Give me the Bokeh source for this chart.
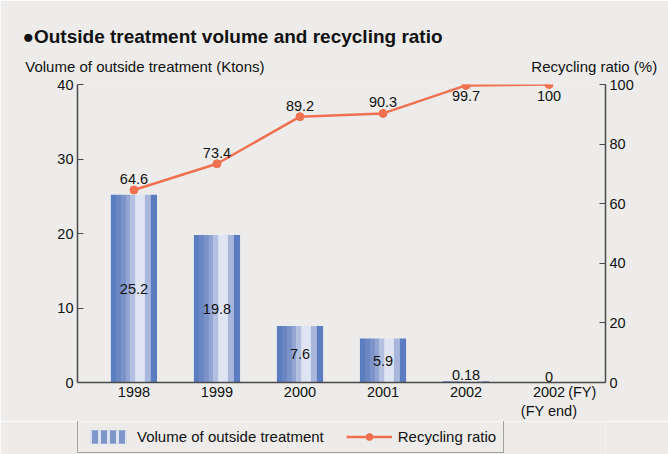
from bokeh.plotting import figure
from bokeh.layouts import column
from bokeh.models import (ColumnDataSource, FactorRange, Range1d, LinearAxis, CategoricalAxis, Title,
                          Legend, LegendItem, FixedTicker)
from bokeh.core.properties import value
from bokeh.transform import dodge
from bokeh.embed import file_html
from bokeh.resources import INLINE

# ---- data ----
years = ["1998", "1999", "2000", "2001", "2002", "2002\n(FY end)"]
volume = [25.2, 19.8, 7.6, 5.9, 0.18, 0]
volume_labels = ["25.2", "19.8", "7.6", "5.9", "0.18", "0"]
ratio = [64.6, 73.4, 89.2, 90.3, 99.7, 100]
ratio_labels = ["64.6", "73.4", "89.2", "90.3", "99.7", "100"]
left_ticks = [0, 10, 20, 30, 40]
right_ticks = [0, 20, 40, 60, 80, 100]
x_unit_label = "(FY)"
left_title = "Volume of outside treatment (Ktons)"
right_title = "Recycling ratio (%)"
main_title = "●Outside treatment volume and recycling ratio"

# ---- style ----
BG = "#edecea"
FONT = "Liberation Sans"
LINE_C = "#f0704f"
AXIS_C = "#4a4a4a"
TXT = "#111111"
stripe_px = [5, 5, 5, 4.5, 5, 9.5, 6, 6]
stripe_colors = ["#5a7dc0", "#6a87c4", "#7b93c9", "#93a5d3", "#b4c0e2", "#dfe4f2", "#a9b7dd", "#5b7cc0"]
BAR_W = 0.554

def blank(i):
    return " " * (i + 1)

# fine label grids (5 slots per category) for the category axis, and the header row
tick_factors = [blank(i) for i in range(30)]
for k, y in enumerate(years):
    tick_factors[2 + 5 * k] = y
tick_factors[29] = x_unit_label
head_factors = [blank(i) for i in range(10)]
head_factors[1] = left_title
head_factors[9] = right_title

p = figure(width=668, height=421, output_backend="svg", toolbar_location=None,
           x_range=FactorRange(*years, range_padding=0.18, range_padding_units="absolute"),
           y_range=Range1d(0, 40), x_axis_location=None,
           min_border_left=77, min_border_right=63, min_border_top=84, min_border_bottom=35)
p.background_fill_color = BG
p.border_fill_color = BG
p.outline_line_color = None
p.grid.visible = False
p.extra_y_ranges = {"ratio": Range1d(0, 100)}
p.extra_x_ranges = {
    "ticks": FactorRange(*tick_factors, range_padding=0.9, range_padding_units="absolute"),
    "head": FactorRange(*head_factors, range_padding=-0.3, range_padding_units="absolute"),
}

src = ColumnDataSource(dict(year=years, vol=volume, ratio=ratio))

# striped bars
total = sum(stripe_px)
acc = 0.0
for w, c in zip(stripe_px, stripe_colors):
    center = (acc + w / 2 - total / 2) / total * BAR_W
    p.vbar(x=dodge("year", center, range=p.x_range), top="vol", bottom=0,
           width=w / total * BAR_W + 0.002, source=src, fill_color=c, line_color=None)
    acc += w

# bar labels
big = ColumnDataSource(dict(year=[y for y, v in zip(years, volume) if v > 2],
                            mid=[v / 2 for v in volume if v > 2],
                            lab=[l for l, v in zip(volume_labels, volume) if v > 2]))
small = ColumnDataSource(dict(year=[y for y, v in zip(years, volume) if v <= 2],
                              top=[v for v in volume if v <= 2],
                              lab=[l for l, v in zip(volume_labels, volume) if v <= 2]))
txt_kw = dict(text_font=value(FONT), text_font_size="14.5px", text_color=TXT, text_align="center")
p.text(x="year", y="mid", text="lab", source=big, text_baseline="middle", **txt_kw)
p.text(x="year", y="top", text="lab", source=small, text_baseline="bottom", y_offset=-1, **txt_kw)

# line
p.line(x="year", y="ratio", source=src, y_range_name="ratio", line_color=LINE_C, line_width=2.5)
p.scatter(x="year", y="ratio", source=src, y_range_name="ratio", size=8,
          fill_color=LINE_C, line_color=LINE_C)
above = ColumnDataSource(dict(year=years[:4], ratio=ratio[:4], lab=ratio_labels[:4]))
below = ColumnDataSource(dict(year=years[4:], ratio=ratio[4:], lab=ratio_labels[4:]))
p.text(x="year", y="ratio", text="lab", source=above, y_range_name="ratio",
       text_baseline="bottom", y_offset=-6, **txt_kw)
p.text(x="year", y="ratio", text="lab", source=below, y_range_name="ratio",
       text_baseline="top", y_offset=6, **txt_kw)

# value axes
def style_axis(ax, ticks):
    ax.ticker = FixedTicker(ticks=ticks)
    ax.axis_line_color = AXIS_C
    ax.axis_line_width = 1.5
    ax.major_tick_line_color = AXIS_C
    ax.major_tick_line_width = 1.2
    ax.major_tick_in = 6
    ax.major_tick_out = 0
    ax.minor_tick_line_color = None
    ax.major_label_text_font = FONT
    ax.major_label_text_font_size = "14.5px"
    ax.major_label_text_color = TXT
    ax.major_label_standoff = 4

style_axis(p.yaxis[0], left_ticks)
right = LinearAxis(y_range_name="ratio")
style_axis(right, right_ticks)
p.add_layout(right, "right")

# category axis and header row
def plain_cat_axis(ax, size, standoff, line):
    ax.axis_line_color = AXIS_C if line else None
    ax.axis_line_width = 1.5
    ax.major_tick_line_color = None
    ax.minor_tick_line_color = None
    ax.major_tick_in = 0
    ax.major_tick_out = 0
    ax.major_label_text_font = FONT
    ax.major_label_text_font_size = size
    ax.major_label_text_color = TXT
    ax.major_label_standoff = standoff

bottom_ax = CategoricalAxis(x_range_name="ticks")
plain_cat_axis(bottom_ax, "14.5px", 1, True)
p.add_layout(bottom_ax, "below")

head_ax = CategoricalAxis(x_range_name="head")
plain_cat_axis(head_ax, "15px", 10, False)
p.add_layout(head_ax, "above")
p.add_layout(Title(text=" ", text_font_size="1px", standoff=2), "above")

p.title.text = main_title
p.title.align = "left"
p.title.offset = -55
p.title.standoff = 6
p.title.text_font = FONT
p.title.text_font_style = "bold"
p.title.text_font_size = "19px"
p.title.text_color = TXT

# legend row (separate strip under the chart)
lg = figure(width=668, height=33, output_backend="svg", toolbar_location=None,
            x_range=Range1d(0, 1), y_range=Range1d(0, 1), x_axis_location=None, y_axis_location=None,
            min_border=0, min_border_left=0, min_border_right=0, min_border_top=0, min_border_bottom=0)
lg.background_fill_color = BG
lg.border_fill_color = BG
lg.outline_line_color = None
lg.grid.visible = False
proxy_bar = lg.vbar(x=[5], top=[5], bottom=[4], width=0.5, fill_color="#7f96cb", line_color=None,
                    hatch_pattern="vertical_line", hatch_color="#dfe4f2", hatch_weight=3, hatch_scale=9)
proxy_line = lg.line(x=[5, 6], y=[5, 5], line_color=LINE_C, line_width=2.5)
proxy_dot = lg.scatter(x=[5], y=[5], size=8, fill_color=LINE_C, line_color=LINE_C)
legend = Legend(items=[LegendItem(label="Volume of outside treatment", renderers=[proxy_bar]),
                       LegendItem(label="Recycling ratio", renderers=[proxy_line, proxy_dot])],
                orientation="horizontal", location=(0, 1),
                border_line_color="#555555", border_line_width=1.2, background_fill_alpha=0,
                glyph_width=46, glyph_height=17, label_standoff=6, spacing=22, padding=7, margin=0,
                label_text_font=FONT, label_text_font_size="15px", label_text_color=TXT)
lg.add_layout(legend, "center")

layout = column(p, lg, spacing=0)
open("out.html", "w").write(file_html(layout, INLINE))
